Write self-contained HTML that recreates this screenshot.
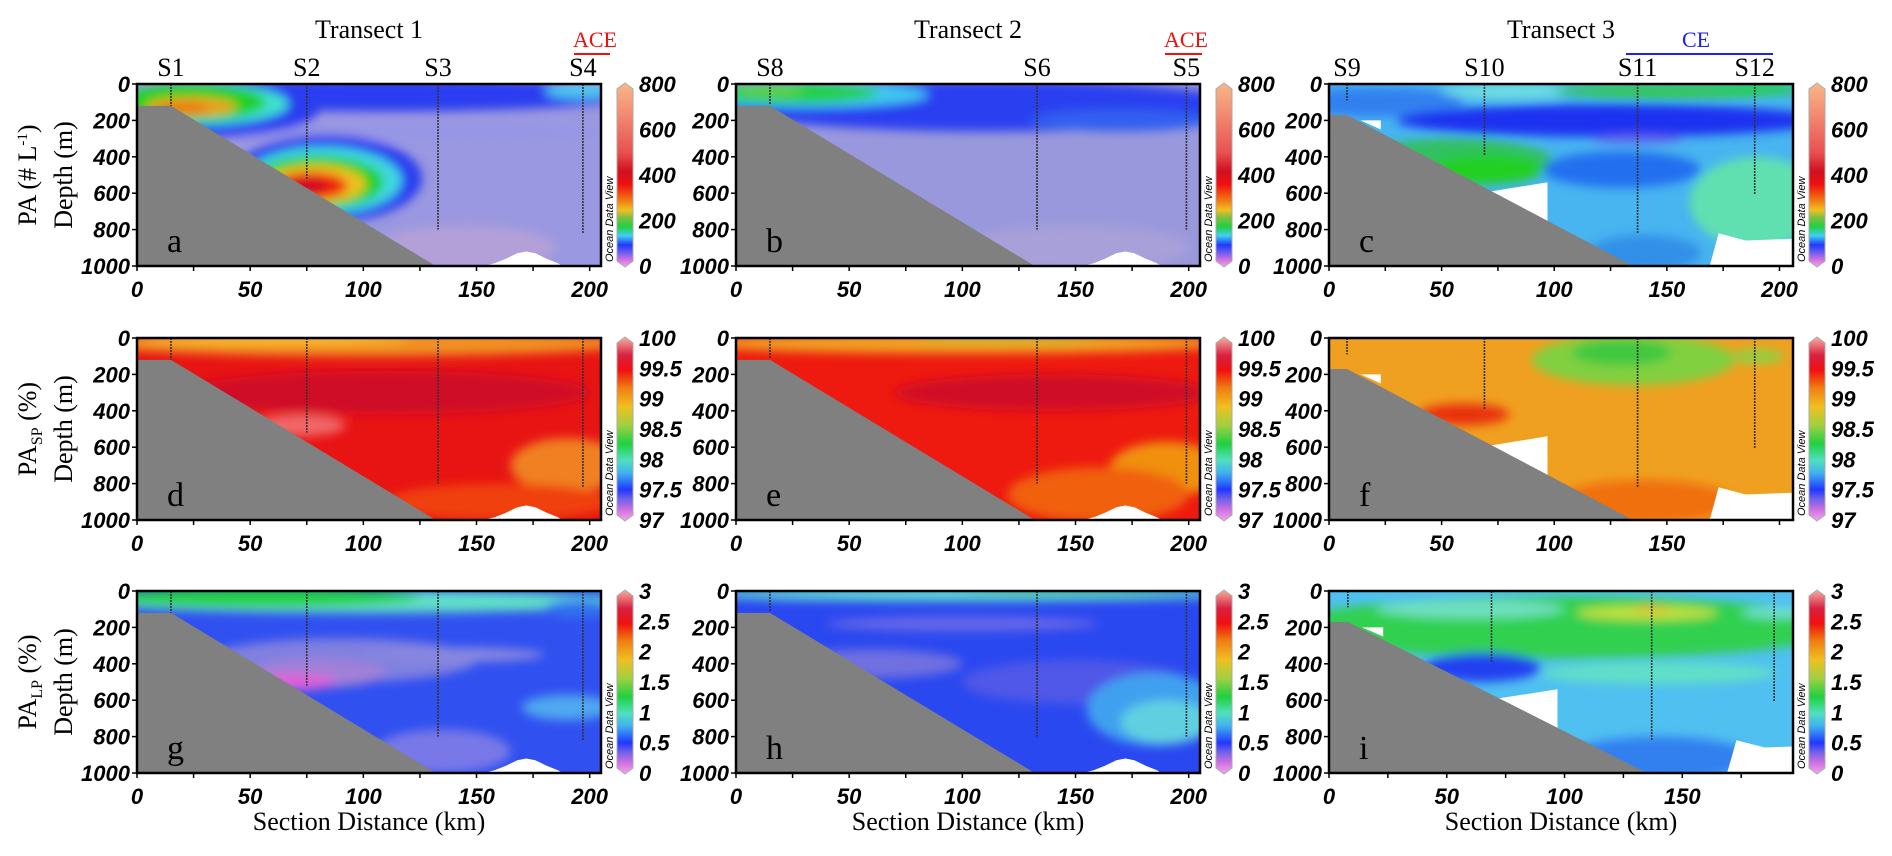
<!DOCTYPE html>
<html><head><meta charset="utf-8"><style>
html,body{margin:0;padding:0;background:#fff;}
svg{display:block;}
.tk{font-family:"Liberation Sans",sans-serif;font-weight:bold;font-style:italic;font-size:22px;fill:#000;}
.sr{font-family:"Liberation Serif",serif;fill:#000;}
</style></head><body>
<svg id="fig" width="1892" height="856" viewBox="0 0 1892 856" xmlns="http://www.w3.org/2000/svg">
<defs>
<filter id="blur" x="-20%" y="-20%" width="140%" height="140%"><feGaussianBlur stdDeviation="5"/></filter>
<linearGradient id="cbA" x1="0" y1="1" x2="0" y2="0">
<stop offset="0" stop-color="#f2a6f0"/><stop offset="0.04" stop-color="#d070e0"/><stop offset="0.08" stop-color="#6a5cf0"/><stop offset="0.12" stop-color="#2038ff"/><stop offset="0.17" stop-color="#40d0f0"/><stop offset="0.22" stop-color="#20d040"/><stop offset="0.27" stop-color="#80c040"/><stop offset="0.31" stop-color="#f0c020"/><stop offset="0.37" stop-color="#f07010"/><stop offset="0.45" stop-color="#f01010"/><stop offset="0.52" stop-color="#d01020"/><stop offset="0.62" stop-color="#e85050"/><stop offset="0.82" stop-color="#f28870"/><stop offset="1" stop-color="#f8b888"/></linearGradient>
<linearGradient id="cbD" x1="0" y1="1" x2="0" y2="0">
<stop offset="0" stop-color="#f2a6f0"/><stop offset="0.06" stop-color="#d070e0"/><stop offset="0.12" stop-color="#7060e8"/><stop offset="0.17" stop-color="#2038ff"/><stop offset="0.26" stop-color="#40b0f0"/><stop offset="0.33" stop-color="#50e0c0"/><stop offset="0.42" stop-color="#20d040"/><stop offset="0.52" stop-color="#a0d040"/><stop offset="0.62" stop-color="#f0c020"/><stop offset="0.72" stop-color="#f08010"/><stop offset="0.82" stop-color="#f01010"/><stop offset="0.9" stop-color="#d82040"/><stop offset="1" stop-color="#f8b0a0"/></linearGradient>
</defs>
</svg>
<script>
// ---- data ----
const depthTicks = [0,200,400,600,800,1000];
const xTicksFull = [0,50,100,150,200];
const xTicksShort = [0,50,100,150];
const cbLabelsA = ["800","600","400","200","0"];
const cbLabelsD = ["100","99.5","99","98.5","98","97.5","97"];
const cbLabelsG = ["3","2.5","2","1.5","1","0.5","0"];
const transectTitles = ["Transect 1","Transect 2","Transect 3"];
const stationNames1 = ["S1","S2","S3","S4"];
const stationKm1 = [15,75,133,197];
const castDepth1 = [120,520,800,820];
const stationNames2 = ["S8","S6","S5"];
const stationKm2 = [15,133,199];
const castDepth2 = [110,800,800];
const stationNames3 = ["S9","S10","S11","S12"];
const stationKm3 = [8,69,137,189];
const castDepth3 = [90,390,820,610];
const panelLetters = ["a","b","c","d","e","f","g","h","i"];
const rowLabels = ["PA (# L<tspan dy='-9' font-size='15'>-1</tspan><tspan dy='9'>)</tspan>","PA<tspan dy='6' font-size='16'>SP</tspan><tspan dy='-6'> (%)</tspan>","PA<tspan dy='6' font-size='16'>LP</tspan><tspan dy='-6'> (%)</tspan>"];
// field features: [km, depth m, rx km, ry m, colour]
const fieldBase = ["#9a98e0","#9a98dc","#48b4f0","#e81414","#ee1a10","#f0a020","#3050f0","#2a48f0","#50c0f0"];
const fieldA = [[110,60,110,90,"#2a3ef0"],[120,270,90,50,"#9696e6"],[145,900,40,120,"#b4a0d8"],[196,40,16,40,"#50c8f0"],
 [32,150,48,140,"#2a3ef0"],[27,110,40,115,"#40e0d0"],[24,100,33,100,"#20d020"],[24,125,20,50,"#f0a020"],[20,135,12,30,"#f07010"],
 [84,520,42,240,"#2a3ef0"],[82,530,35,185,"#40d8e0"],[80,540,29,145,"#20d020"],[79,550,22,105,"#f0c020"],[77,560,16,75,"#f02010"],[74,560,10,50,"#d01020"]];
const fieldB = [[110,120,115,140,"#2a40f0"],[150,900,50,120,"#a8a0d8"],[170,200,40,60,"#3060f0"],[30,60,55,70,"#40c8f0"],[25,50,38,55,"#20d040"],[15,40,15,30,"#60d050"]];
const fieldC = [[20,100,40,80,"#3080f0"],[125,200,95,90,"#1a30f0"],[137,300,20,25,"#6060f0"],[80,40,30,40,"#70e0e0"],[150,40,50,40,"#30c850"],[190,30,20,30,"#20d040"],
 [55,430,45,130,"#30c060"],[70,470,25,80,"#20d020"],[130,470,35,100,"#2070f0"],[190,650,30,250,"#60e0b0"],[140,930,25,100,"#3090e8"]];
const fieldD = [[100,30,120,70,"#f09020"],[60,10,60,25,"#f8c030"],[110,300,90,120,"#d01028"],[72,480,20,60,"#f06868"],[190,700,25,150,"#f08020"],[160,900,50,100,"#f04010"]];
const fieldE = [[100,30,120,55,"#f0a020"],[120,5,40,12,"#90d040"],[140,300,70,100,"#d01028"],[190,720,25,150,"#f09010"],[160,860,40,150,"#f06010"]];
const fieldF = [[135,120,45,140,"#80d040"],[130,80,22,70,"#40c840"],[190,100,12,40,"#90d040"],[60,420,20,60,"#e83010"],[140,900,40,120,"#f07010"]];
const fieldG = [[100,60,120,60,"#60e0c8"],[55,35,70,50,"#20d040"],[195,100,15,50,"#3070f0"],[90,380,60,120,"#8080e0"],[80,450,30,80,"#a080d8"],[70,500,18,45,"#e060d8"],
 [135,880,30,120,"#7878e8"],[190,640,20,70,"#50a8f0"],[140,350,40,40,"#8888e0"]];
const fieldH = [[100,20,120,35,"#60e0d0"],[150,5,50,12,"#40d060"],[100,180,60,40,"#6868e8"],[60,400,40,80,"#7070e0"],[150,500,50,120,"#5058e8"],[185,650,30,200,"#40a0f0"],[190,720,20,120,"#60d0e0"]];
const fieldI = [[100,200,120,170,"#30d050"],[60,100,40,50,"#70e0c0"],[135,120,30,40,"#c0e040"],[137,100,8,15,"#f0b020"],[190,120,15,30,"#70e0d0"],[65,420,25,80,"#2040f0"],[140,450,50,60,"#60e0c8"],[140,920,40,120,"#3080f0"]];
const fields = [fieldA,fieldB,fieldC,fieldD,fieldE,fieldF,fieldG,fieldH,fieldI];
// bathymetry [km, depth]
const bathy12 = [[0,120],[15,120],[132,1000],[0,1000]];
const bathy3 = [[0,170],[8,170],[135,1000],[0,1000]];
const seamount = [[153,1000],[158,985],[163,960],[168,930],[172,920],[176,930],[181,960],[186,985],[188,1000]];
const white3a = [[14,200],[23,200],[23,250]];
const white3b = [[72,590],[97,540],[97,760]];
const white3c = [[169,1000],[173,820],[185,860],[206,850],[206,1000]];

// ---- layout ----
const NS="http://www.w3.org/2000/svg";
const svg=document.getElementById('fig');
const colX=[137,736,1329], rowY=[84,338,591], PW=464, PH=182;
const kmMax=[205,205,206,205,205,206,205,205,197];
function mk(tag,attrs,parent){const e=document.createElementNS(NS,tag);for(const k in attrs)e.setAttribute(k,attrs[k]);(parent||svg).appendChild(e);return e;}

for(let p=0;p<9;p++){
  const r=Math.floor(p/3), c=p%3, x0=colX[c], y0=rowY[r];
  const sx=PW/kmMax[p], sy=PH/1000;
  const X=k=>x0+k*sx, Y=d=>y0+d*sy;
  const g=mk('g',{});
  
  
  const cid='clip'+p;
  const cp=mk('clipPath',{id:cid},g); mk('rect',{x:x0,y:y0,width:PW,height:PH},cp);
  const inner=mk('g',{'clip-path':'url(#'+cid+')'},g);
  mk('rect',{x:x0,y:y0,width:PW,height:PH,fill:fieldBase[p]},inner);
  const bl=mk('g',{filter:'url(#blur)'},inner);
  fields[p].forEach(f=>{
    const e=mk('ellipse',{cx:X(f[0]),cy:Y(f[1]),rx:f[2]*sx,ry:f[3]*sy,fill:f[4]},bl);
    
    
  });
  const pts=a=>a.map(q=>X(q[0])+','+Y(q[1])).join(' ');
  if(c<2){
    const w=mk('polygon',{points:pts(seamount),fill:'#fff'},inner);
    
    
  } else {
    [white3a,white3b,white3c].forEach(a=>{const w=mk('polygon',{points:pts(a),fill:'#fff'},inner);
      
      });
  }
  const bt=mk('polygon',{points:pts(c<2?bathy12:bathy3),fill:'#808080'},inner);
  
  
  const sk=c===0?stationKm1:c===1?stationKm2:stationKm3;
  const cd=c===0?castDepth1:c===1?castDepth2:castDepth3;
  sk.forEach((k,i)=>{const l=mk('line',{x1:X(k),y1:y0,x2:X(k),y2:Y(cd[i]),stroke:'#333','stroke-width':1.6,'stroke-dasharray':'2 1'},inner);
    
    });
  mk('rect',{x:x0,y:y0,width:PW,height:PH,fill:'none',stroke:'#000','stroke-width':2.5},g);
  depthTicks.forEach(d=>{
    mk('line',{x1:x0-5,y1:Y(d),x2:x0,y2:Y(d),stroke:'#000','stroke-width':1.5},g);
    const t=mk('text',{x:x0-7,y:Y(d)+8,'text-anchor':'end',class:'tk'},g); t.textContent=d;
    
    
  });
  const xt=(r>0&&c===2)?xTicksShort:xTicksFull;
  for(let k=0;k<=kmMax[p];k+=25){mk('line',{x1:X(k),y1:y0+PH,x2:X(k),y2:y0+PH+5,stroke:'#000','stroke-width':1.5},g);}
  xt.forEach(k=>{const t=mk('text',{x:X(k),y:y0+PH+31,'text-anchor':'middle',class:'tk'},g); t.textContent=k;
    
    });
  const lt=mk('text',{x:x0+30,y:y0+PH-14,class:'sr','font-size':34},g); lt.textContent=panelLetters[p];
  
  
  const cbx=x0+PW+16, cbt=y0, cbb=y0+PH;
  const cb=mk('path',{d:`M${cbx} ${cbt+5} L${cbx+8} ${cbt-1} L${cbx+16} ${cbt+5} L${cbx+16} ${cbb-5} L${cbx+8} ${cbb+1} L${cbx} ${cbb-5} Z`,fill:r===0?'url(#cbA)':'url(#cbD)',stroke:'#aaa','stroke-width':1},g);
  
  
  const labs=r===0?cbLabelsA:r===1?cbLabelsD:cbLabelsG;
  labs.forEach((s,i)=>{const yy=cbt+i*(PH/(labs.length-1));
    const t=mk('text',{x:cbx+22,y:yy+8,class:'tk'},g); t.textContent=s;
    
    });
  const odv=mk('text',{x:0,y:0,transform:`translate(${cbx-4},${cbb-4}) rotate(-90)`,'font-family':'Liberation Sans, sans-serif','font-style':'italic','font-size':11,fill:'#000'},g);
  odv.textContent='Ocean Data View';
  
  
}
rowLabels.forEach((s,r)=>{
  const cy=rowY[r]+PH/2;
  const t=mk('text',{transform:`translate(36,${cy}) rotate(-90)`,'text-anchor':'middle',class:'sr','font-size':26});
  t.innerHTML=s;
  
  
  const d=mk('text',{transform:`translate(72,${cy}) rotate(-90)`,'text-anchor':'middle',class:'sr','font-size':26});
  d.textContent='Depth (m)';
  
  
});
[0,1,2].forEach(c=>{
  const x0=colX[c], sx=PW/kmMax[c];
  const t=mk('text',{x:x0+PW/2,y:38,'text-anchor':'middle',class:'sr','font-size':26}); t.textContent=transectTitles[c];
  
  
  const xt=mk('text',{x:x0+PW/2,y:830,'text-anchor':'middle',class:'sr','font-size':26}); xt.textContent='Section Distance (km)';
  
  
  const nm=c===0?stationNames1:c===1?stationNames2:stationNames3;
  const sk=c===0?stationKm1:c===1?stationKm2:stationKm3;
  nm.forEach((s,i)=>{const st=mk('text',{x:x0+sk[i]*sx,y:76,'text-anchor':'middle',class:'sr','font-size':26}); st.textContent=s;
    
    });
});
function eddy(txt,col,xc,x1,x2){
  const t=mk('text',{x:xc,y:47,'text-anchor':'middle',class:'sr','font-size':22,fill:col}); t.textContent=txt; t.style.fill=col;
  
  
  const l=mk('line',{x1:x1,y1:54,x2:x2,y2:54,stroke:col,'stroke-width':2});
  
  
}
eddy('ACE','#f01010',595,574,610);
eddy('ACE','#f01010',1186,1165,1202);
eddy('CE','#2020f0',1696,1626,1773);
</script>
</body></html>
